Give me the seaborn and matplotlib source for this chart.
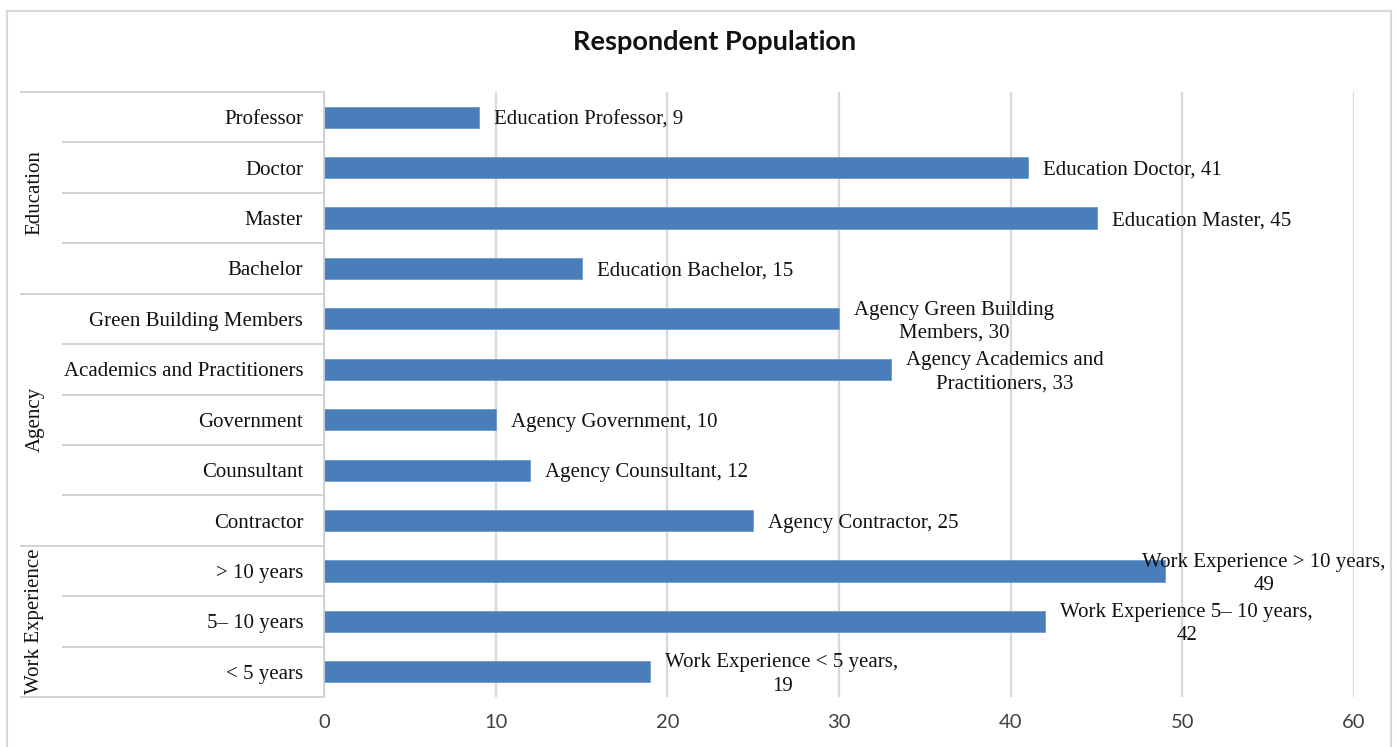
import matplotlib
matplotlib.use("Agg")
import matplotlib.pyplot as plt
import matplotlib.transforms as mtransforms
from matplotlib.patches import Rectangle
import seaborn as sns
import pandas as pd

# ---- data ----
groups = ["Education"] * 4 + ["Agency"] * 5 + ["Work Experience"] * 3
categories = ["Professor", "Doctor", "Master", "Bachelor",
              "Green Building Members", "Academics and Practitioners",
              "Government", "Counsultant", "Contractor",
              "> 10 years", "5\u2013 10 years", "< 5 years"]
values = [9, 41, 45, 15, 30, 33, 10, 12, 25, 49, 42, 19]
# word after which the data label wraps (None = single line)
label_breaks = [None, None, None, None, "Building", "and", None, None, None,
                "years,", "years,", "years,"]
xticks = [0, 10, 20, 30, 40, 50, 60]
title = "Respondent Population"

df = pd.DataFrame({"group": groups, "category": categories, "value": values})

W, H = 1396, 747
sns.set_theme(style="white")
plt.rcParams["font.family"] = ["Liberation Serif", "DejaVu Serif"]

fig = plt.figure(figsize=(W / 100, H / 100), dpi=100)
fig.patch.set_facecolor("white")
ax_left, ax_right, ax_top, ax_bot = 324, 1354, 92, 697
ax = fig.add_axes([ax_left / W, 1 - ax_bot / H, (ax_right - ax_left) / W, (ax_bot - ax_top) / H])

BAR = "#4a7ebb"
GRID = "#d9d9d9"
LINE = "#cfcfcf"

sns.barplot(data=df, x="value", y="category", orient="h", color=BAR,
            width=0.42, saturation=1, ax=ax, edgecolor="#6f9bd0", linewidth=0.6)

ax.set_xlim(0, 60)
ax.set_ylim(len(categories) - 0.5, -0.5)
ax.set_xticks(xticks)
ax.set_xticklabels([str(t) for t in xticks], family="Lato", fontsize=14.5, color="#404040")
ax.tick_params(axis="x", length=0, pad=12)
ax.tick_params(axis="y", length=0, pad=15, labelsize=15, labelcolor="#111111")
for lab in ax.get_yticklabels():
    lab.set_fontfamily("Liberation Serif")
ax.set_xlabel("")
ax.set_ylabel("")
ax.grid(axis="x", color=GRID, linewidth=1.6)
ax.set_axisbelow(True)
for s in ["top", "right", "bottom"]:
    ax.spines[s].set_visible(False)
ax.spines["left"].set_color(LINE)
ax.spines["left"].set_linewidth(1.3)

# ---- category table on the left ----
trans = mtransforms.blended_transform_factory(fig.transFigure, ax.transData)
x_outer = 20 / W
x_inner = 62 / W
x_end = ax_left / W
n = len(categories)
for i in range(n + 1):
    yb = i - 0.5
    is_group_edge = i == 0 or i == n or groups[i] != groups[i - 1]
    x0 = x_outer if is_group_edge else x_inner
    ax.plot([x0, x_end], [yb, yb], transform=trans, color=LINE, lw=1.3,
            clip_on=False, solid_capstyle="butt")

# group labels
start = 0
for i in range(1, n + 1):
    if i == n or groups[i] != groups[start]:
        yc = (start + i - 1) / 2
        ax.text(35 / W, yc, groups[start], transform=trans, rotation=90,
                ha="center", va="center", fontsize=15, color="#111111",
                family="Liberation Serif")
        start = i

# ---- data labels ----
anns = []
for i, (g, c, v, brk) in enumerate(zip(groups, categories, values, label_breaks)):
    txt = f"{g} {c}, {v}"
    if brk:
        k = txt.index(brk) + len(brk)
        txt = txt[:k] + "\n" + txt[k:].strip()
    a = ax.annotate(txt, xy=(v, i), xytext=(11, -2), textcoords="offset points",
                    ha="left", va="center", multialignment="center",
                    fontsize=15, color="#111111", family="Liberation Serif",
                    linespacing=1.3, annotation_clip=False)
    anns.append(a)

# keep labels inside the chart area (Excel-like)
fig.canvas.draw()
renderer = fig.canvas.get_renderer()
limit_px = 1386
for a in anns:
    bb = a.get_window_extent(renderer)
    if bb.x1 > limit_px:
        shift = (bb.x1 - limit_px) * 72 / fig.dpi
        a.xyann = (a.xyann[0] - shift, a.xyann[1])

# ---- title & chart border ----
fig.text(715 / W, 1 - 42 / H, title, ha="center", va="center",
         fontsize=19.5, fontweight="bold", family="Lato", color="#111111")
fig.patches.append(Rectangle((7 / W, -0.01), (1391 - 7) / W, 1 - 11 / H + 0.01,
                             transform=fig.transFigure, fill=False,
                             edgecolor="#d9d9d9", linewidth=1.5))

fig.savefig("out.png", dpi=100, facecolor="white")
